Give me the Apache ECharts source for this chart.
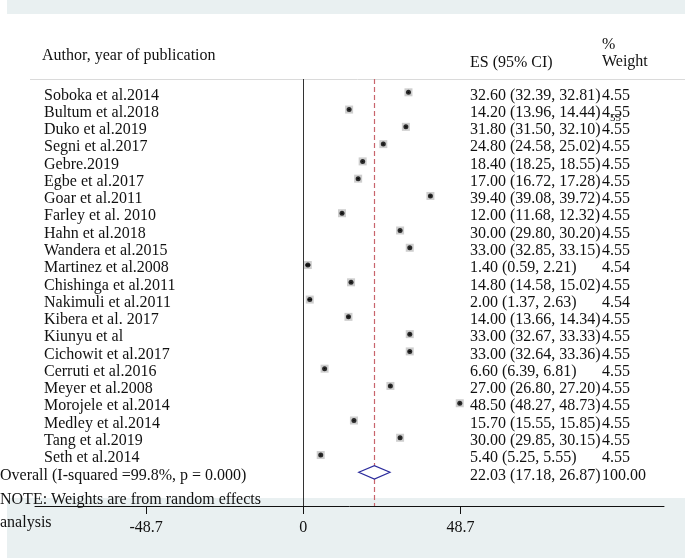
<!DOCTYPE html>
<html>
<head>
<meta charset="utf-8">
<script src="https://cdn.jsdelivr.net/npm/echarts@6/dist/echarts.min.js"></script>
<style>
html,body{margin:0;padding:0;background:#fff;}
#chart{width:685px;height:560px;}
</style>
</head>
<body>
<div id="chart"></div>
<script>
const studies = ['Soboka et al.2014','Bultum et al.2018','Duko et al.2019','Segni et al.2017','Gebre.2019','Egbe et al.2017','Goar et al.2011','Farley et al. 2010','Hahn et al.2018','Wandera et al.2015','Martinez et al.2008','Chishinga et al.2011','Nakimuli et al.2011','Kibera et al. 2017','Kiunyu et al','Cichowit et al.2017','Cerruti et al.2016','Meyer et al.2008','Morojele et al.2014','Medley et al.2014','Tang et al.2019','Seth et al.2014'];
const es     = [32.60,14.20,31.80,24.80,18.40,17.00,39.40,12.00,30.00,33.00,1.40,14.80,2.00,14.00,33.00,33.00,6.60,27.00,48.50,15.70,30.00,5.40];
const ciLow  = [32.39,13.96,31.50,24.58,18.25,16.72,39.08,11.68,29.80,32.85,0.59,14.58,1.37,13.66,32.67,32.64,6.39,26.80,48.27,15.55,29.85,5.25];
const ciHigh = [32.81,14.44,32.10,25.02,18.55,17.28,39.72,12.32,30.20,33.15,2.21,15.02,2.63,14.34,33.33,33.36,6.81,27.20,48.73,15.85,30.15,5.55];
const weights = ['4.55','4.55','4.55','4.55','4.55','4.55','4.55','4.55','4.55','4.55','4.54','4.55','4.54','4.55','4.55','4.55','4.55','4.55','4.55','4.55','4.55','4.55'];
const overallLabel = 'Overall (I-squared =99.8%, p = 0.000)';
const overallES = 22.03;
const overallLow = 17.18;
const overallHigh = 26.87;
const overallWeight = '100.00';
const xTicks = [-48.7, 0, 48.7];

const FONT = 'Liberation Serif';
const TXT = '#111';
const fmt = v => v.toFixed(2);
const overallRow = studies.length;

const chart = echarts.init(document.getElementById('chart'), null, {renderer: 'canvas'});

function txt(x, y, s, size) {
  return {type: 'text', x: x, y: y, style: {text: s, fontFamily: FONT, fontSize: size || 16, fill: TXT, align: 'left', verticalAlign: 'middle'}};
}

const option = {
  animation: false,
  backgroundColor: '#ffffff',
  grid: {left: 35, right: 21, top: 79, bottom: 54, containLabel: false},
  xAxis: {
    type: 'value', min: -83.17, max: 111.81, position: 'bottom',
    axisLine: {show: true, onZero: false, lineStyle: {color: '#111', width: 1}},
    axisTick: {show: true, length: 8, customValues: xTicks, lineStyle: {color: '#111'}},
    axisLabel: {show: true, customValues: xTicks, margin: 14, fontFamily: FONT, fontSize: 16, color: TXT,
      formatter: v => (v === 0 ? '0' : String(v))},
    splitLine: {show: false}
  },
  yAxis: {type: 'value', inverse: true, min: -0.77, max: 23.95, show: false},
  graphic: [
    {type: 'rect', z: -10, shape: {x: 7, y: 0, width: 678, height: 14}, style: {fill: '#e9f0f1'}},
    {type: 'rect', z: -10, shape: {x: 7, y: 498, width: 678, height: 60}, style: {fill: '#e9f0f1'}},
    {type: 'line', z: -5, shape: {x1: 30, y1: 79.5, x2: 685, y2: 79.5}, style: {stroke: '#dadada', lineWidth: 1}},
    Object.assign(txt(42, 56, 'Author, year of publication'), {z: 5}),
    Object.assign(txt(470, 63, 'ES (95% CI)'), {z: 5}),
    Object.assign(txt(602, 45, '%'), {z: 5}),
    Object.assign(txt(602, 62, 'Weight'), {z: 5}),
    Object.assign(txt(0, 500, 'NOTE: Weights are from random effects'), {z: 5}),
    Object.assign(txt(0, 523, 'analysis'), {z: 5}),
    Object.assign(txt(610, 118, '55', 11), {z: 5})
  ],
  series: [
    {
      type: 'scatter', name: 'box', symbol: 'rect', symbolSize: 8,
      itemStyle: {color: '#c2c2c2'},
      data: es.map((v, i) => [v, i]),
      markLine: {
        silent: true, symbol: 'none', label: {show: false},
        data: [
          {xAxis: 0, lineStyle: {color: '#333', width: 1, type: 'solid'}},
          {xAxis: overallES, lineStyle: {color: '#c8646c', width: 1.2, type: [5, 3]}}
        ]
      },
      z: 2
    },
    {
      type: 'custom', name: 'ci', clip: false,
      data: es.map((v, i) => [ciLow[i], ciHigh[i], i]),
      renderItem: function (params, api) {
        const a = api.coord([api.value(0), api.value(2)]);
        const b = api.coord([api.value(1), api.value(2)]);
        return {type: 'line', shape: {x1: a[0], y1: a[1], x2: b[0], y2: b[1]}, style: {stroke: '#000', lineWidth: 1}};
      },
      z: 3
    },
    {
      type: 'scatter', name: 'point', symbol: 'circle', symbolSize: 5,
      itemStyle: {color: '#000'},
      data: es.map((v, i) => [v, i]),
      z: 4
    },
    {
      type: 'custom', name: 'overall', clip: false,
      data: [[overallLow, overallES, overallHigh, overallRow]],
      renderItem: function (params, api) {
        const r = api.value(3), h = 0.39;
        const p1 = api.coord([api.value(0), r]);
        const p2 = api.coord([api.value(1), r - h]);
        const p3 = api.coord([api.value(2), r]);
        const p4 = api.coord([api.value(1), r + h]);
        return {type: 'polygon', shape: {points: [p1, p2, p3, p4]}, style: {fill: '#ffffff', stroke: '#2b2b9c', lineWidth: 1.2}};
      },
      z: 5
    },
    {
      type: 'custom', name: 'texts', clip: false,
      data: studies.map((s, i) => [0, i]).concat([[0, overallRow]]),
      renderItem: function (params, api) {
        const i = params.dataIndex;
        const y = api.coord([0, api.value(1)])[1] + 3;
        let label, esTxt, w, lx;
        if (i < studies.length) {
          label = studies[i];
          esTxt = fmt(es[i]) + ' (' + fmt(ciLow[i]) + ', ' + fmt(ciHigh[i]) + ')';
          w = weights[i];
          lx = 44;
        } else {
          label = overallLabel;
          esTxt = fmt(overallES) + ' (' + fmt(overallLow) + ', ' + fmt(overallHigh) + ')';
          w = overallWeight;
          lx = 0;
        }
        return {type: 'group', children: [txt(lx, y, label), txt(470, y, esTxt), txt(602, y, w)]};
      },
      z: 6
    }
  ]
};
chart.setOption(option);
</script>
</body>
</html>
